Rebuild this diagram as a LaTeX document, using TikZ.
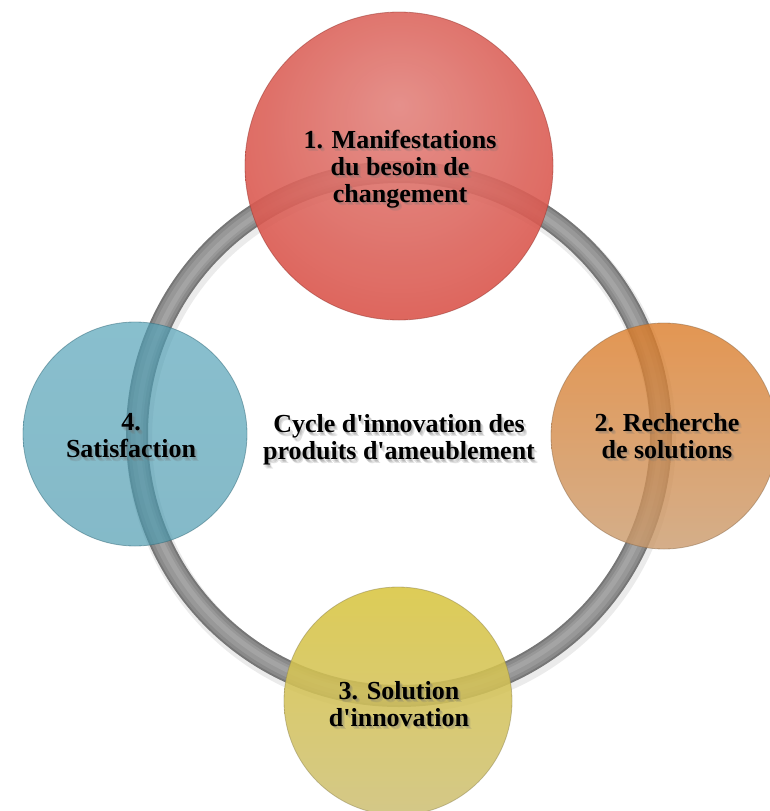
\documentclass[tikz,border=0pt]{standalone}
\usepackage{fontspec}
\newfontfamily\tnr{Liberation Serif}
\definecolor{redC}{RGB}{226,132,126}
\definecolor{redE}{RGB}{216,78,68}
\definecolor{orT}{RGB}{220,124,40}
\definecolor{orB}{RGB}{202,154,108}
\definecolor{blT}{RGB}{80,160,182}
\definecolor{blB}{RGB}{74,153,174}
\definecolor{yeT}{RGB}{216,196,62}
\definecolor{yeB}{RGB}{206,192,118}
\definecolor{ringA}{RGB}{118,118,118}
\definecolor{ringB}{RGB}{138,138,138}
\definecolor{ringC}{RGB}{152,152,152}
\definecolor{ringD}{RGB}{164,164,164}
\pgfdeclareradialshading{redglow}{\pgfpoint{0bp}{10bp}}{color(0bp)=(redC); color(34bp)=(redE); color(50bp)=(redE!92!black)}
\tikzset{
  ball/.style={circle, inner sep=0pt, draw opacity=0.5, line width=0.8pt},
  lbltext/.style={align=center, inner sep=0pt, font=\tnr\bfseries\fontsize{26}{27}\selectfont},
  shadowtext/.style={lbltext, text=black!55, text opacity=0.2}
}
\newcommand{\lbl}[3]{%
  \foreach \dx/\dy in {1/1.5, 2/2.5, 3/3.5}{%
    \node[shadowtext] at ([xshift=\dx pt, yshift=-\dy pt]#1) {#3};}%
  \node[lbltext] (#2) at (#1) {#3};}
\begin{document}
\begin{tikzpicture}[x=1pt, y=-1pt]
\useasboundingbox (0,0) rectangle (770,811);
\coordinate (ringc) at (399,434);
% ring shadow and tube
\draw[line width=26pt, black, opacity=0.08] ([xshift=2pt, yshift=-4pt]ringc) circle[radius=262];
\draw[line width=22pt, ringA] (ringc) circle[radius=262];
\draw[line width=18pt, ringB] (ringc) circle[radius=262];
\draw[line width=12pt, ringC] (ringc) circle[radius=262];
\draw[line width=5pt, ringD] (ringc) circle[radius=261];
% circles
\node[ball, minimum size=308pt, shading=redglow, fill opacity=0.9, draw=redE!70!black] (c1) at (399,166) {};
\node[ball, minimum size=226pt, top color=orT, bottom color=orB, fill opacity=0.8, draw=orB!70!black] (c2) at (664,436) {};
\node[ball, minimum size=228pt, top color=yeT, bottom color=yeB, fill opacity=0.87, draw=yeB!70!black] (c3) at (398,701) {};
\node[ball, minimum size=224pt, top color=blT, bottom color=blB, fill opacity=0.68, draw=blB!70!black] (c4) at (135,434) {};
% labels
\coordinate (p1) at (400,169);
\coordinate (p2) at (667,436);
\coordinate (p3) at (399,704);
\coordinate (p4) at (131,436);
\coordinate (p0) at (399,440);
\lbl{p1}{t1}{1. Manifestations\\du besoin de\\changement}
\lbl{p2}{t2}{2. Recherche\\de solutions}
\lbl{p3}{t3}{3. Solution\\d'innovation}
\lbl{p4}{t4}{4.\\Satisfaction}
\lbl{p0}{t0}{Cycle d'innovation des\\produits d'ameublement}
\end{tikzpicture}
\end{document}
